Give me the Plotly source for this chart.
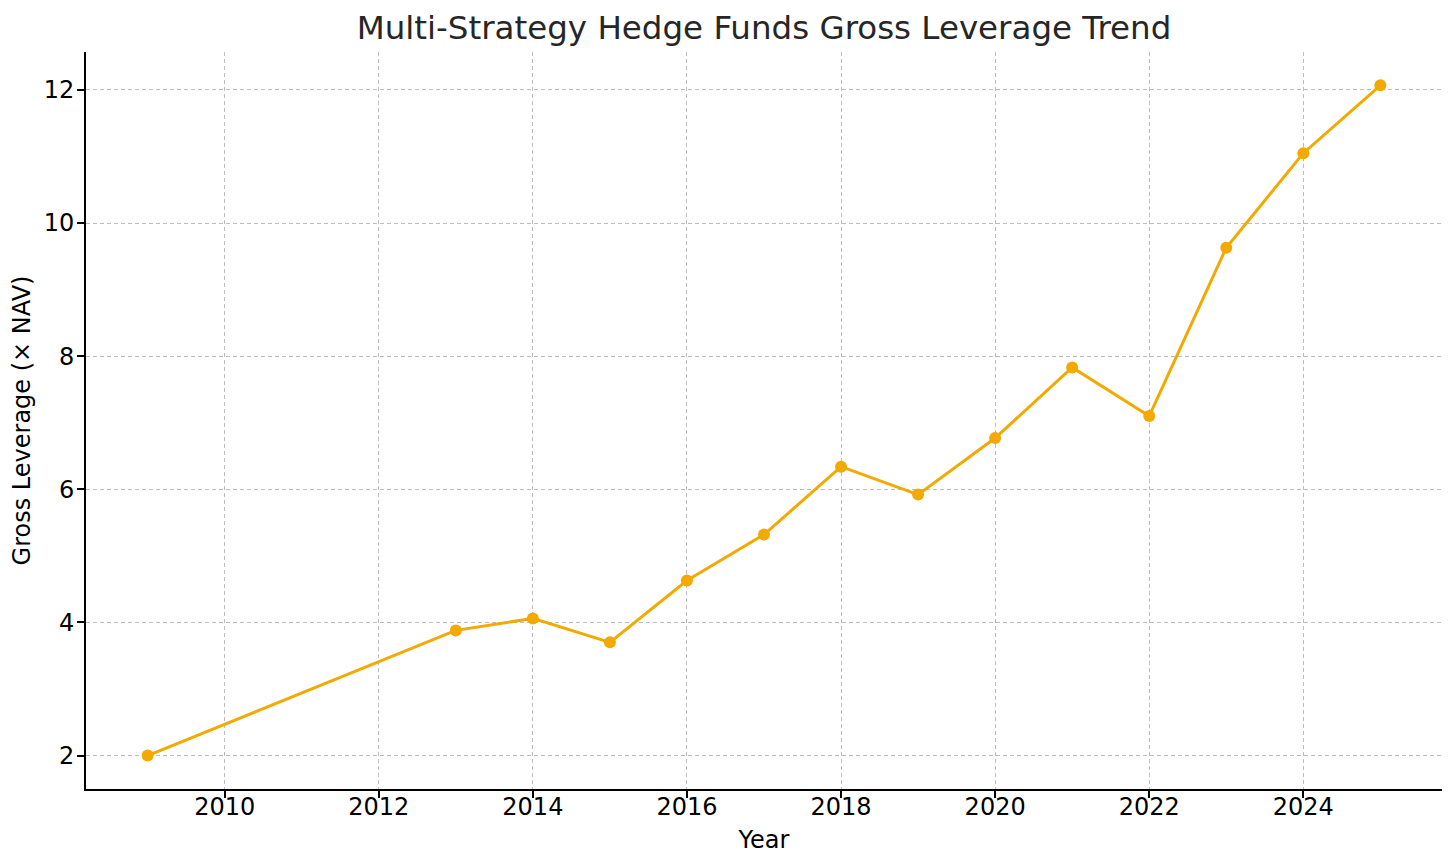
import plotly.graph_objects as go

years = [2009, 2013, 2014, 2015, 2016, 2017, 2018, 2019, 2020, 2021, 2022, 2023, 2024, 2025]
leverage = [2.0, 3.88, 4.06, 3.70, 4.63, 5.32, 6.34, 5.92, 6.77, 7.83, 7.10, 9.63, 11.05, 12.07]

x_ticks = [2010, 2012, 2014, 2016, 2018, 2020, 2022, 2024]
y_ticks = [2, 4, 6, 8, 10, 12]

LINE_COLOR = "#F2A900"
FONT = "DejaVu Sans"


def main():
    fig = go.Figure()

    fig.add_trace(go.Scatter(
        x=years,
        y=leverage,
        mode="lines+markers",
        line=dict(color=LINE_COLOR, width=3),
        marker=dict(color=LINE_COLOR, size=12),
        showlegend=False,
    ))

    axis_common = dict(
        showline=True,
        linecolor="black",
        linewidth=2,
        ticks="outside",
        ticklen=7,
        tickwidth=1.5,
        tickcolor="black",
        showgrid=True,
        gridcolor="#bdbdbd",
        griddash="4px,3px",
        gridwidth=1,
        zeroline=False,
        tickfont=dict(family=FONT, size=24, color="black"),
        title_font=dict(family=FONT, size=24, color="black"),
        mirror=False,
    )

    fig.update_xaxes(
        range=[2008.2, 2025.8],
        tickvals=x_ticks,
        ticklabelstandoff=-12,
        title_text="Year",
        title_standoff=11,
        **axis_common
    )
    fig.update_yaxes(
        range=[1.497, 12.57],
        tickvals=y_ticks,
        ticklabelstandoff=-2,
        title_text="Gross Leverage (× NAV)",
        title_standoff=8,
        **axis_common
    )

    # the page adds an 8px body margin, so the figure is a bit smaller
    fig.update_layout(
        width=1440,
        height=852,
        plot_bgcolor="white",
        paper_bgcolor="white",
        margin=dict(l=78, r=6, t=44, b=71),
        title=dict(
            text="Multi-Strategy Hedge Funds Gross Leverage Trend",
            font=dict(family=FONT, size=32.5, color="#262626"),
            x=0.5,
            xanchor="center",
            xref="paper",
            y=1 - 20 / 852,
            yanchor="middle",
        ),
    )

    fig.write_html("out.html")


if __name__ == '__main__':
    main()
